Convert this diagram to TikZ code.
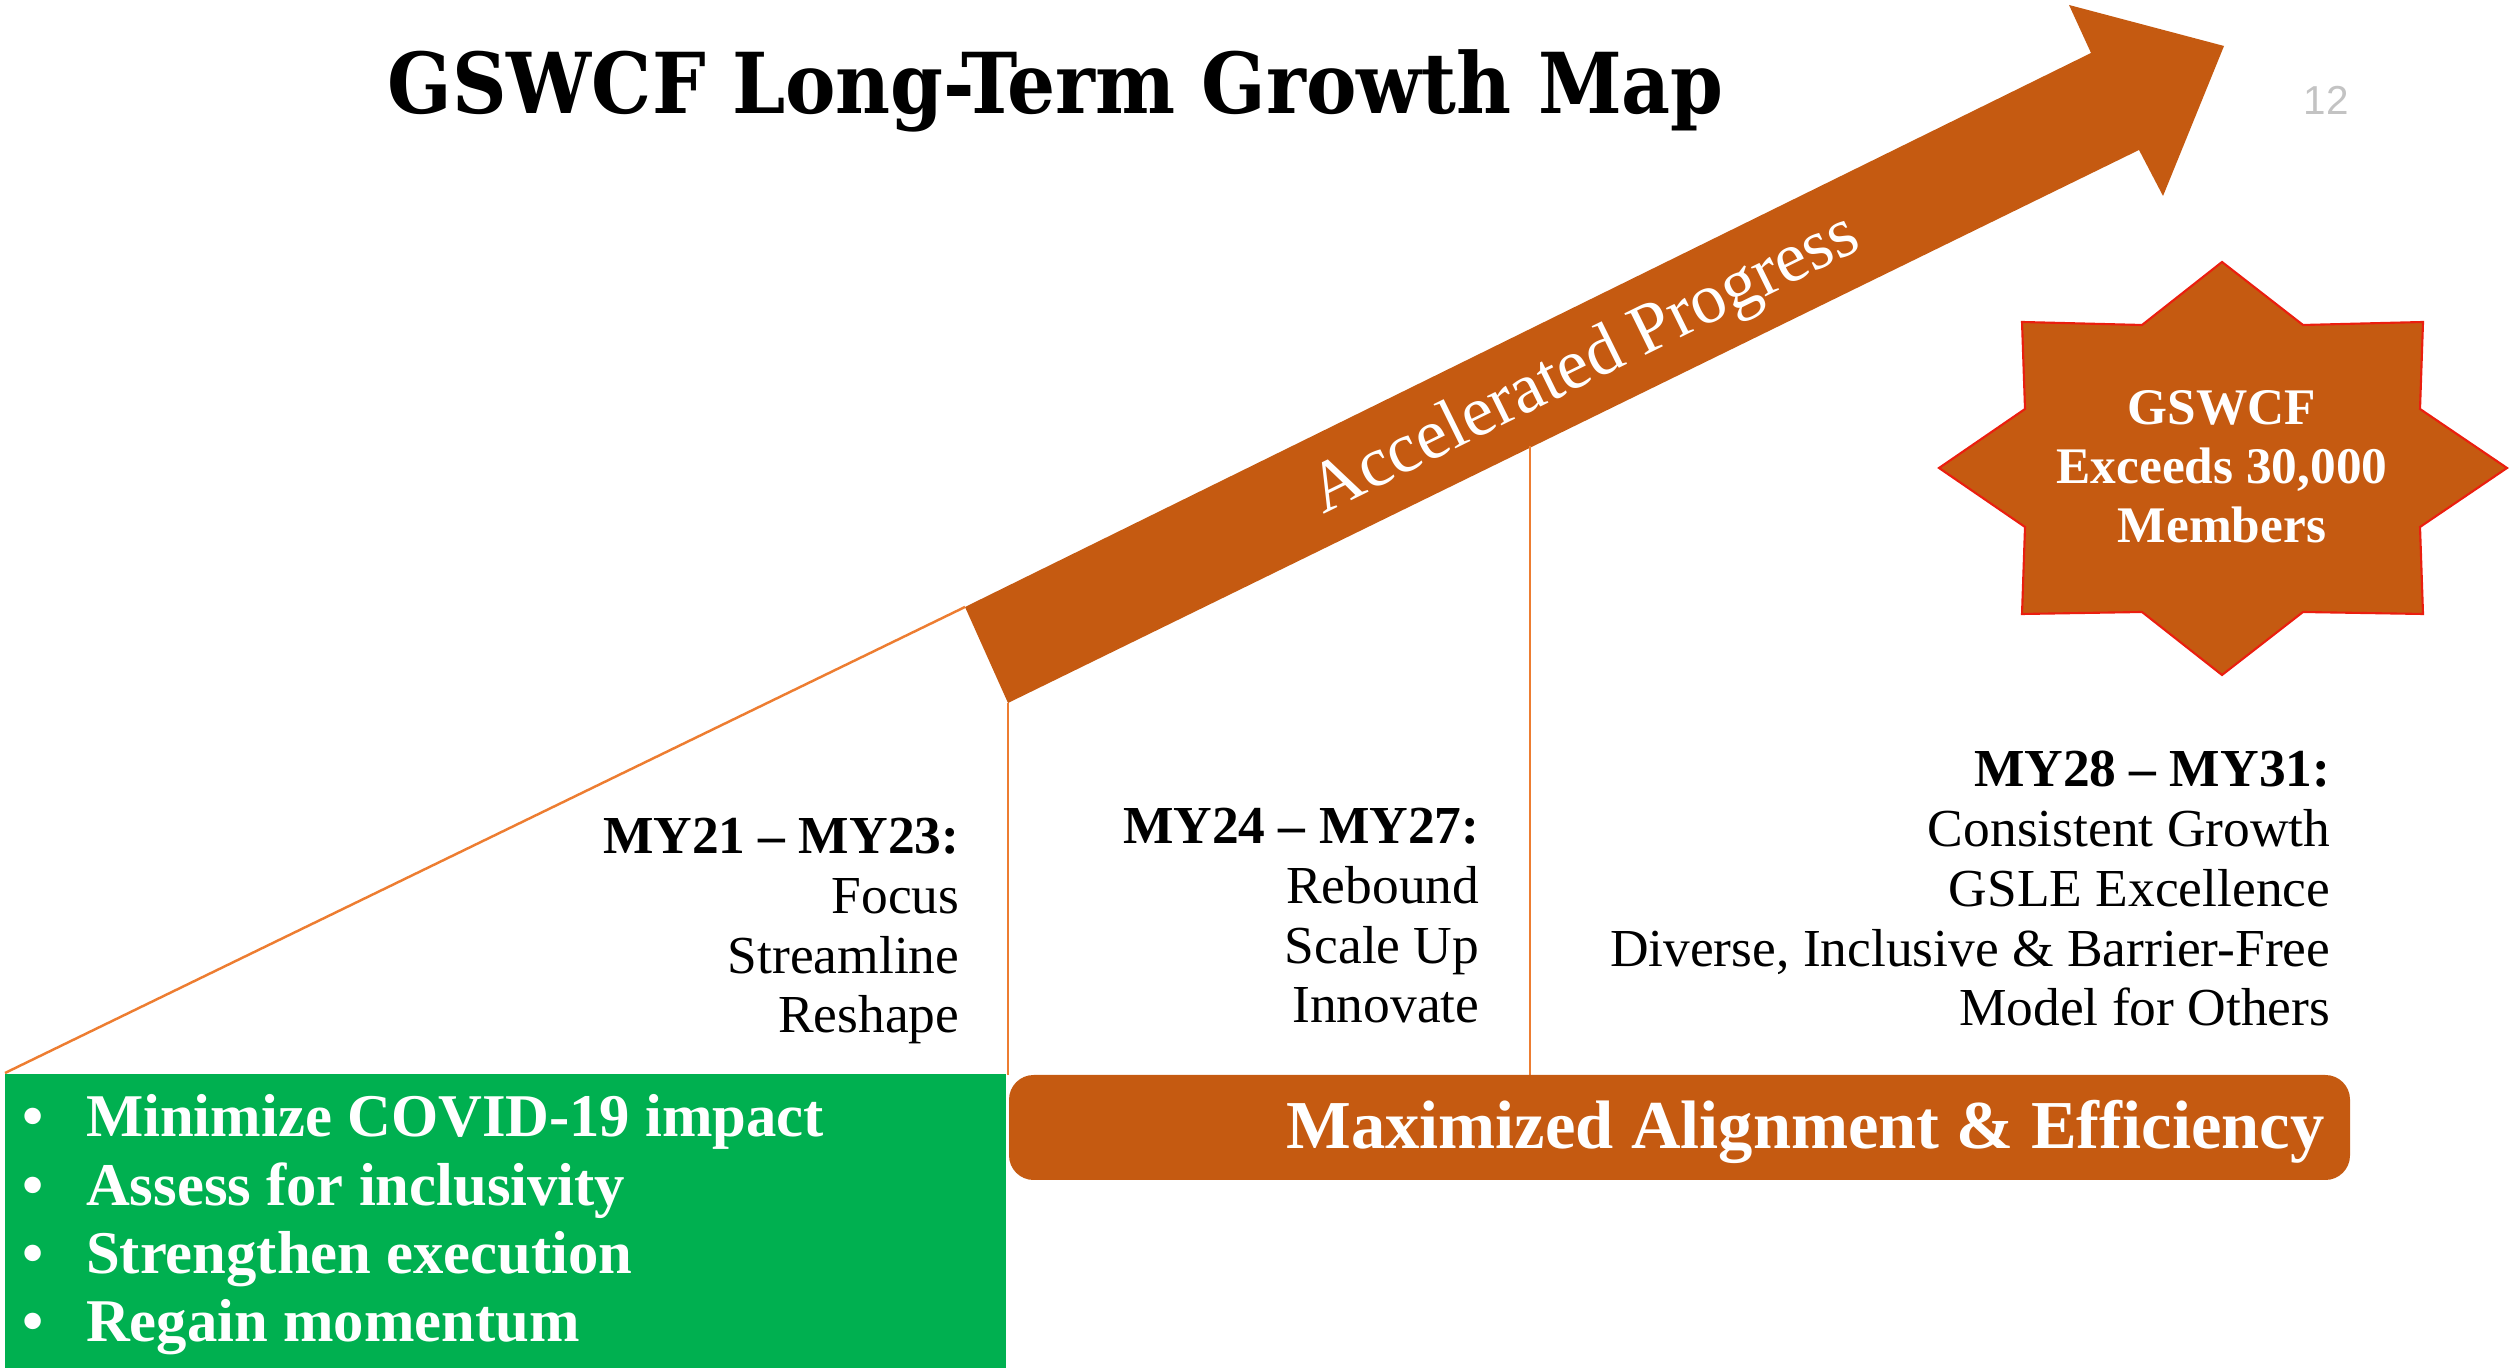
\documentclass[tikz,border=0pt]{standalone}
\usepackage{fontspec}
\setmainfont{Liberation Serif}
\setsansfont{Liberation Sans}
\newfontfamily\titlefont{DejaVu Serif Condensed}
\definecolor{rust}{RGB}{197, 90, 17}
\definecolor{lineorange}{RGB}{237, 125, 49}
\definecolor{boxgreen}{RGB}{0, 176, 80}
\definecolor{starred}{RGB}{235, 30, 15}
\definecolor{pagegray}{RGB}{195, 195, 195}
\usepackage{tikz}
\usetikzlibrary{calc}

\begin{document}
\begin{tikzpicture}[x=0.01cm, y=-0.01cm,
  guide/.style={draw=lineorange, line width=0.7pt},
  phase/.style={anchor=base east, align=right, inner sep=0pt, font=\fontsize{15.2}{17.05}\selectfont},
  whitebold/.style={text=white, font=\bfseries\fontsize{#1}{17}\selectfont}]
  \useasboundingbox (0,0) rectangle (2509,1368);

  % Title and page number
  \node[anchor=base west, inner sep=0pt, font=\titlefont\bfseries\fontsize{23.9}{28}\selectfont] (title) at (387, 114) {GSWCF Long-Term Growth Map};
  \node[font=\sffamily\fontsize{11.5}{13}\selectfont, text=pagegray] (pagenum) at (2326, 100) {12};

  % The arrow
  \coordinate (tailtop) at (965, 607);
  \coordinate (tailbot) at (1008, 703);
  \fill[rust] (tailtop) -- (2091, 53) -- (2069, 5) -- (2224, 46) -- (2163, 196) -- (2139, 150) -- (tailbot) -- cycle;
  \node[text=white, rotate=26.2, inner sep=0pt, font=\fontsize{20.2}{24}\selectfont] (accel) at (1586, 366) {Accelerated Progress};

  % Guide lines
  \coordinate (origin) at (5, 1073);
  \coordinate (firstfoot) at (1008, 1075);
  \coordinate (secondtop) at (1530, 446);
  \coordinate (secondfoot) at (1530, 1075);
  \draw[guide] (origin) -- (tailtop);
  \draw[guide] (tailbot) -- (firstfoot);
  \draw[guide] (secondtop) -- (secondfoot);

  % Phases (anchored on the last line)
  \node[phase] (phaseA) at (960, 1033) {\textbf{MY21 – MY23:}\\Focus\\Streamline\\Reshape};
  \node[phase] (phaseB) at (1480, 1023) {\textbf{MY24 – MY27:}\\Rebound\\Scale Up\\Innovate};
  \node[phase] (phaseC) at (2331, 1026) {\textbf{MY28 – MY31:}\\Consistent Growth\\GSLE Excellence\\Diverse, Inclusive \& Barrier-Free\\Model for Others};

  % Star
  \begin{scope}[shift={(2222, 468)}]
    \filldraw[fill=rust, draw=starred, line width=0.6pt] (0, -206) -- (81, -143) -- (201, -146) -- (198, -59) -- (285, 0) -- (198, 59) -- (201, 146) -- (81, 144) -- (0, 207) -- (-80, 144) -- (-200, 146) -- (-197, 59) -- (-283, 0) -- (-197, -59) -- (-200, -146) -- (-80, -143) -- cycle;
  \end{scope}
  \node[text=white, align=center, anchor=base, inner sep=0pt, font=\bfseries\fontsize{14.6}{16.9}\selectfont] (goal) at (2222, 543) {GSWCF\\Exceeds 30,000\\Members};

  % Green box
  \fill[boxgreen] (5, 1074) rectangle (1006, 1368);
  \renewcommand{\arraystretch}{1}
  \node[anchor=base west, inner sep=0pt, whitebold=17.25] (todo) at (22, 1137) {
    \fontsize{17.25}{19.4}\selectfont
    \begin{tabular}[t]{@{}l@{\hspace{12pt}}l@{}}
      \textbullet & Minimize COVID-19 impact \\
      \textbullet & Assess for inclusivity \\
      \textbullet & Strengthen execution \\
      \textbullet & Regain momentum \\
    \end{tabular}
  };

  % Bottom bar
  \fill[rust, rounded corners=7pt] (1009, 1075) rectangle (2350, 1180);
  \node[anchor=base east, inner sep=0pt, whitebold=19.5] (align) at (2325, 1149) {Maximized Alignment \& Efficiency};
\end{tikzpicture}
\end{document}
